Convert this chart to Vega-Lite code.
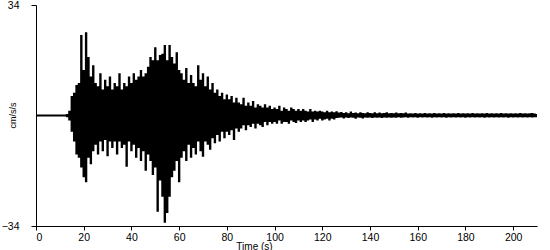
{
  "$schema": "https://vega.github.io/schema/vega-lite/v6.json",
  "width": 501,
  "height": 221,
  "autosize": "none",
  "padding": {"left": 36, "top": 5, "right": 13, "bottom": 24},
  "background": "white",
  "view": {"stroke": null},
  "config": {"font": "Liberation Sans"},
  "data": {"values": [
    {"t":0,"hi":0.3,"lo":-0.3},{"t":1,"hi":0.3,"lo":-0.3},{"t":2,"hi":0.3,"lo":-0.3},{"t":3,"hi":0.3,"lo":-0.3},{"t":4,"hi":0.3,"lo":-0.3},{"t":5,"hi":0.3,"lo":-0.3},{"t":6,"hi":0.3,"lo":-0.3},{"t":7,"hi":0.3,"lo":-0.3},{"t":8,"hi":0.3,"lo":-0.3},{"t":9,"hi":0.3,"lo":-0.3},{"t":10,"hi":0.3,"lo":-0.3},{"t":11,"hi":0.3,"lo":-0.3},{"t":12,"hi":0.3,"lo":-0.3},{"t":13,"hi":0.5,"lo":-0.5},
    {"t":14,"hi":1.5,"lo":-1.5},{"t":15,"hi":6,"lo":-5},{"t":16,"hi":7,"lo":-8},{"t":17,"hi":9.4,"lo":-12},{"t":18,"hi":10,"lo":-13},{"t":19,"hi":24.8,"lo":-16},
    {"t":20,"hi":14,"lo":-19},{"t":21,"hi":25.6,"lo":-20.5},{"t":22,"hi":18,"lo":-13},{"t":23,"hi":12,"lo":-15},{"t":24,"hi":15.5,"lo":-11},
    {"t":25,"hi":10,"lo":-9},{"t":26,"hi":9,"lo":-12},{"t":27,"hi":13,"lo":-8},{"t":28,"hi":8,"lo":-11},{"t":29,"hi":11,"lo":-7.5},
    {"t":30,"hi":9,"lo":-12.5},{"t":31,"hi":12,"lo":-8},{"t":32,"hi":8,"lo":-10},{"t":33,"hi":10,"lo":-8},{"t":34,"hi":9,"lo":-12},
    {"t":35,"hi":13,"lo":-8},{"t":36,"hi":8,"lo":-10},{"t":37,"hi":10,"lo":-9},{"t":38,"hi":9,"lo":-15.8},{"t":39,"hi":12,"lo":-8},
    {"t":40,"hi":10,"lo":-11},{"t":41,"hi":13,"lo":-9},{"t":42,"hi":11,"lo":-13},{"t":43,"hi":12,"lo":-10},{"t":44,"hi":14,"lo":-14},
    {"t":45,"hi":12,"lo":-11},{"t":46,"hi":13,"lo":-17},{"t":47,"hi":15,"lo":-12},{"t":48,"hi":18,"lo":-14},{"t":49,"hi":17,"lo":-18.3},
    {"t":50,"hi":21,"lo":-16},{"t":51,"hi":17,"lo":-29.6},{"t":52,"hi":18.6,"lo":-20},{"t":53,"hi":19,"lo":-25},{"t":54,"hi":21.7,"lo":-33},
    {"t":55,"hi":17,"lo":-30},{"t":56,"hi":21.7,"lo":-25},{"t":57,"hi":18,"lo":-19},{"t":58,"hi":16,"lo":-17},{"t":59,"hi":19.5,"lo":-14},
    {"t":60,"hi":14,"lo":-20.5},{"t":61,"hi":13,"lo":-13},{"t":62,"hi":11,"lo":-11},{"t":63,"hi":14.6,"lo":-14},{"t":64,"hi":10,"lo":-9},
    {"t":65,"hi":12.5,"lo":-13},{"t":66,"hi":10,"lo":-10},{"t":67,"hi":9,"lo":-12},{"t":68,"hi":15.5,"lo":-8},{"t":69,"hi":11,"lo":-11},
    {"t":70,"hi":13,"lo":-12.7},{"t":71,"hi":9,"lo":-8},{"t":72,"hi":12,"lo":-9},{"t":73,"hi":8,"lo":-10.5},{"t":74,"hi":10,"lo":-7},
    {"t":75,"hi":7,"lo":-8.5},{"t":76,"hi":8,"lo":-6},{"t":77,"hi":6,"lo":-8},{"t":78,"hi":7,"lo":-5},{"t":79,"hi":5,"lo":-7},
    {"t":80,"hi":6.5,"lo":-5},{"t":81,"hi":5,"lo":-6},{"t":82,"hi":6,"lo":-4.5},{"t":83,"hi":4,"lo":-7.5},{"t":84,"hi":5.5,"lo":-4},
    {"t":85,"hi":4,"lo":-5},{"t":86,"hi":3.5,"lo":-4},{"t":87,"hi":5.5,"lo":-3},{"t":88,"hi":3,"lo":-4.5},{"t":89,"hi":4,"lo":-3},
    {"t":90,"hi":3,"lo":-3.5},{"t":91,"hi":4.5,"lo":-2.5},{"t":92,"hi":2.5,"lo":-4},{"t":93,"hi":3.5,"lo":-2.5},{"t":94,"hi":3,"lo":-3},
    {"t":95,"hi":2.5,"lo":-3.5},{"t":96,"hi":3.5,"lo":-2},{"t":97,"hi":2.5,"lo":-3},{"t":98,"hi":3,"lo":-2},{"t":99,"hi":2,"lo":-2.5},
    {"t":100,"hi":2.5,"lo":-2},{"t":101,"hi":2,"lo":-2.5},{"t":102,"hi":3,"lo":-1.5},{"t":103,"hi":1.5,"lo":-2.5},{"t":104,"hi":2.5,"lo":-2},
    {"t":105,"hi":2,"lo":-2},{"t":106,"hi":1.5,"lo":-2.5},{"t":107,"hi":2.5,"lo":-1.5},{"t":108,"hi":2,"lo":-2},{"t":109,"hi":1.5,"lo":-2.3},
    {"t":110,"hi":2,"lo":-1.5},{"t":111,"hi":1.5,"lo":-2},{"t":112,"hi":2,"lo":-1.5},{"t":113,"hi":1.5,"lo":-2},{"t":114,"hi":1.2,"lo":-1.5},
    {"t":115,"hi":2,"lo":-1.2},{"t":116,"hi":1.2,"lo":-2},{"t":117,"hi":1.5,"lo":-1.2},{"t":118,"hi":1.2,"lo":-1.5},{"t":119,"hi":1.5,"lo":-1},
    {"t":120,"hi":1.2,"lo":-1.5},{"t":121,"hi":1,"lo":-1.2},{"t":122,"hi":1.5,"lo":-1},{"t":123,"hi":1,"lo":-1.5},{"t":124,"hi":1.2,"lo":-1},
    {"t":125,"hi":1,"lo":-1.2},{"t":126,"hi":1.3,"lo":-0.8},{"t":127,"hi":0.9,"lo":-0.7},{"t":128,"hi":1.1,"lo":-0.6},{"t":129,"hi":0.8,"lo":-0.9},
    {"t":130,"hi":1,"lo":-0.6},{"t":131,"hi":0.7,"lo":-0.8},{"t":132,"hi":1.2,"lo":-0.6},{"t":133,"hi":0.8,"lo":-0.7},{"t":134,"hi":0.9,"lo":-1},
    {"t":135,"hi":0.7,"lo":-0.6},{"t":136,"hi":1,"lo":-0.7},{"t":137,"hi":0.8,"lo":-0.9},{"t":138,"hi":0.7,"lo":-0.6},{"t":139,"hi":1,"lo":-0.7},
    {"t":140,"hi":0.8,"lo":-0.6},{"t":141,"hi":0.7,"lo":-0.8},{"t":142,"hi":1,"lo":-0.6},{"t":143,"hi":0.7,"lo":-0.7},{"t":144,"hi":0.9,"lo":-0.6},
    {"t":145,"hi":0.7,"lo":-0.8},{"t":146,"hi":0.8,"lo":-0.6},{"t":147,"hi":1,"lo":-0.7},{"t":148,"hi":0.7,"lo":-0.6},{"t":149,"hi":0.8,"lo":-0.7},
    {"t":150,"hi":0.7,"lo":-0.6},{"t":151,"hi":0.9,"lo":-0.7},{"t":152,"hi":0.7,"lo":-0.5},{"t":153,"hi":0.8,"lo":-0.7},{"t":154,"hi":0.7,"lo":-0.6},
    {"t":155,"hi":0.9,"lo":-0.5},{"t":156,"hi":0.6,"lo":-0.7},{"t":157,"hi":0.7,"lo":-0.5},{"t":158,"hi":0.6,"lo":-0.6},{"t":159,"hi":0.8,"lo":-0.5},
    {"t":160,"hi":0.6,"lo":-0.7},{"t":161,"hi":0.7,"lo":-0.5},{"t":162,"hi":0.6,"lo":-0.6},{"t":163,"hi":0.8,"lo":-0.5},{"t":164,"hi":0.6,"lo":-0.6},
    {"t":165,"hi":0.7,"lo":-0.5},{"t":166,"hi":0.6,"lo":-0.7},{"t":167,"hi":0.8,"lo":-0.5},{"t":168,"hi":0.6,"lo":-0.6},{"t":169,"hi":0.7,"lo":-0.5},
    {"t":170,"hi":0.6,"lo":-0.6},{"t":171,"hi":0.8,"lo":-0.5},{"t":172,"hi":0.6,"lo":-0.7},{"t":173,"hi":0.7,"lo":-0.5},{"t":174,"hi":0.6,"lo":-0.6},
    {"t":175,"hi":0.7,"lo":-0.5},{"t":176,"hi":0.6,"lo":-0.6},{"t":177,"hi":0.8,"lo":-0.5},{"t":178,"hi":0.6,"lo":-0.6},{"t":179,"hi":0.7,"lo":-0.5},
    {"t":180,"hi":0.6,"lo":-0.7},{"t":181,"hi":0.7,"lo":-0.5},{"t":182,"hi":0.6,"lo":-0.6},{"t":183,"hi":0.8,"lo":-0.5},{"t":184,"hi":0.6,"lo":-0.6},
    {"t":185,"hi":0.7,"lo":-0.5},{"t":186,"hi":0.6,"lo":-0.6},{"t":187,"hi":0.7,"lo":-0.5},{"t":188,"hi":0.6,"lo":-0.7},{"t":189,"hi":0.8,"lo":-0.5},
    {"t":190,"hi":0.6,"lo":-0.6},{"t":191,"hi":0.7,"lo":-0.5},{"t":192,"hi":0.6,"lo":-0.6},{"t":193,"hi":0.7,"lo":-0.5},{"t":194,"hi":0.6,"lo":-0.6},
    {"t":195,"hi":0.8,"lo":-0.5},{"t":196,"hi":0.6,"lo":-0.6},{"t":197,"hi":0.7,"lo":-0.5},{"t":198,"hi":0.6,"lo":-0.7},{"t":199,"hi":0.7,"lo":-0.5},
    {"t":200,"hi":0.6,"lo":-0.6},{"t":201,"hi":0.7,"lo":-0.5},{"t":202,"hi":0.6,"lo":-0.6},{"t":203,"hi":0.8,"lo":-0.5},{"t":204,"hi":0.6,"lo":-0.6},
    {"t":205,"hi":0.7,"lo":-0.5},{"t":206,"hi":0.6,"lo":-0.6},{"t":207,"hi":0.7,"lo":-0.5},{"t":208,"hi":0.8,"lo":-0.6},{"t":209,"hi":0.6,"lo":-0.5},{"t":210,"hi":0.5,"lo":-0.5}
  ]},
  "mark": {"type": "area", "color": "black", "opacity": 1, "interpolate": "step", "clip": true},
  "encoding": {
    "x": {
      "field": "t", "type": "quantitative",
      "scale": {"domain": [0, 210], "nice": false, "zero": false},
      "axis": {
        "title": "Time (s)", "values": [0,20,40,60,80,100,120,140,160,180,200],
        "grid": false, "domainColor": "black", "tickColor": "black", "tickSize": 4,
        "labelFontSize": 10.5, "labelColor": "black", "labelPadding": 2,
        "titleFontSize": 10, "titleFontWeight": "normal", "titleColor": "black",
        "titleX": 218, "titleY": 15, "titleBaseline": "top", "titleAlign": "center"
      }
    },
    "y": {
      "field": "hi", "type": "quantitative",
      "scale": {"domain": [-34, 34], "nice": false, "zero": false},
      "axis": {
        "title": "cm/s/s", "values": [-34, 34],
        "grid": false, "domainColor": "black", "tickColor": "black", "tickSize": 5,
        "labelFontSize": 10.5, "labelColor": "black", "labelPadding": 12,
        "titleFontSize": 9, "titleFontWeight": "normal", "titleColor": "black",
        "titleX": -24, "titleY": 110, "titleAngle": -90, "titleAlign": "center", "titleBaseline": "middle"
      }
    },
    "y2": {"field": "lo"}
  }
}
